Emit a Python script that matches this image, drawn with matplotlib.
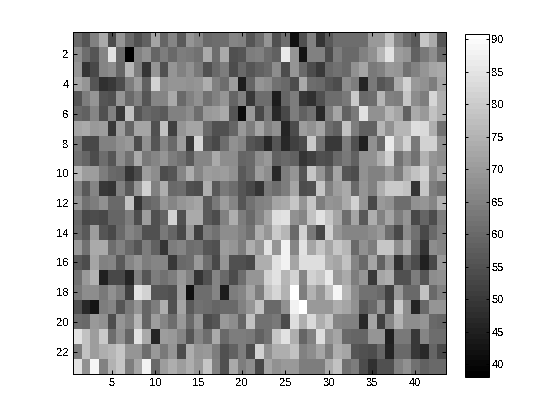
import numpy as np
import matplotlib
matplotlib.use("Agg")
import matplotlib.pyplot as plt

plt.rcParams['font.family'] = ['Liberation Sans', 'DejaVu Sans']
plt.rcParams['font.size'] = 8
plt.rcParams['text.antialiased'] = False

W, H = 560, 420

x_ticks = [5, 10, 15, 20, 25, 30, 35, 40]
y_ticks = [2, 4, 6, 8, 10, 12, 14, 16, 18, 20, 22]
cbar_ticks = [40, 45, 50, 55, 60, 65, 70, 75, 80, 85, 90]
vmin, vmax = 38.1, 90.9

# values, row by row from the top
r01 = [60,56,65,73,54,69,60,55,58,72,59,66,57,69,66,60,61,61,66,65, 56,61,69,55,61,42,55,65,49,57,61,61,61,61,70,70,78,66,61,57,79,73,56]
r02 = [67,61,56,66,85,60,38,65,68,59,64,60,64,63,62,73,61,73,55,56, 64,65,61,58,86,69,43,65,65,54,64,60,60,65,68,76,85,71,69,58,63,67,60]
r03 = [69,49,53,66,67,59,76,64,49,69,55,69,65,68,63,55,60,64,54,60, 56,58,60,67,54,69,60,54,50,60,62,60,68,72,63,65,70,69,62,65,69,72,73]
r04 = [72,69,56,48,50,54,64,71,58,81,67,69,69,68,69,74,65,61,71,44, 59,69,67,62,60,54,73,61,60,56,54,67,64,46,63,56,58,73,81,70,68,64,72]
r05 = [56,64,69,56,55,69,60,65,56,66,66,73,60,65,68,62,65,69,59,65, 50,61,61,44,59,64,50,48,55,61,61,63,80,60,61,76,65,64,79,67,64,82,74]
r06 = [60,58,66,55,65,50,78,56,60,58,57,65,65,67,61,70,71,73,56,41, 70,53,63,47,53,64,58,62,47,64,72,58,63,85,68,68,76,72,58,73,70,78,74]
r07 = [72,73,70,71,50,71,59,72,72,55,78,52,69,72,72,60,55,55,59,70, 64,72,65,68,46,54,71,68,72,61,58,78,64,58,58,76,68,76,76,84,83,74,62]
r08 = [63,53,53,65,65,68,70,54,68,56,66,60,71,50,82,56,53,61,68,66, 56,54,47,56,47,52,54,80,62,50,50,64,55,45,68,60,86,73,81,63,81,81,68]
r09 = [62,59,54,61,56,67,62,73,63,66,69,64,62,57,66,66,73,67,67,59, 60,67,70,58,60,58,49,52,55,54,60,63,58,68,68,74,81,62,67,62,75,69,67]
r10 = [76,71,71,64,60,59,49,54,71,67,54,56,66,74,66,71,70,71,68,57, 60,71,67,47,64,69,56,79,69,59,72,56,54,68,65,65,70,64,74,78,81,67,73]
r11 = [65,57,66,50,49,65,57,69,81,65,74,60,61,55,54,74,57,63,61,56, 53,49,63,61,64,72,54,55,79,65,71,73,60,69,65,74,80,80,78,49,79,64,62]
r12 = [69,62,64,68,60,60,78,49,59,61,69,66,69,71,72,57,63,71,66,56, 62,65,66,72,73,79,69,79,64,69,68,73,81,69,53,70,68,61,61,68,69,66,75]
r13 = [60,53,54,53,59,59,64,54,71,55,59,81,55,73,73,57,54,65,74,64, 60,66,72,84,85,68,66,78,85,79,72,61,72,57,74,65,72,64,69,53,59,54,64]
r14 = [61,57,71,56,53,60,66,63,55,55,63,59,53,70,52,64,62,67,67,65, 62,74,69,80,76,60,81,63,53,81,69,66,66,66,67,70,61,53,67,62,53,60,65]
r15 = [70,62,73,73,61,65,60,56,64,58,49,64,66,61,62,56,55,71,69,64, 74,69,85,69,88,66,85,72,79,72,79,76,60,68,64,79,79,67,74,59,49,67,66]
r16 = [57,54,72,65,66,57,66,69,64,66,66,50,60,61,70,61,53,69,55,55, 53,74,74,85,88,72,84,84,84,74,72,78,66,60,72,58,69,48,59,54,45,53,70]
r17 = [62,70,75,45,53,53,46,65,56,64,62,64,70,65,49,55,66,60,54,61, 69,69,81,85,76,81,66,81,79,86,70,73,64,69,50,72,74,55,55,64,56,67,68]
r18 = [63,67,67,63,68,64,52,85,81,56,56,55,71,42,61,61,66,44,64,66, 72,64,78,82,75,91,64,75,69,78,89,76,67,62,62,60,52,70,60,60,78,60,65]
r19 = [55,47,43,64,66,56,63,69,59,64,74,55,72,57,62,61,59,60,60,65, 69,78,60,60,68,88,91,70,70,70,74,72,68,57,60,69,53,80,67,46,60,69,69]
r20 = [61,60,70,68,54,69,65,76,59,71,66,61,70,60,69,54,56,70,67,59, 78,62,62,63,54,84,74,83,74,79,66,65,65,47,72,52,66,75,67,67,69,60,59]
r21 = [85,78,71,80,61,68,59,85,73,46,71,70,66,56,66,61,73,60,64,64, 63,58,62,79,85,74,59,65,84,69,72,60,59,59,69,69,45,63,63,50,66,61,61]
r22 = [64,78,71,74,76,79,69,69,61,70,63,69,54,74,69,70,64,55,58,64, 54,81,68,74,74,78,65,67,72,64,74,72,56,55,54,59,46,60,60,50,47,59,53]
r23 = [85,68,89,65,75,79,64,72,88,60,71,74,71,74,70,79,65,55,73,64, 67,53,72,68,70,70,64,64,64,73,78,62,64,54,48,55,55,65,68,62,58,60,60]

data = np.array([r01, r02, r03, r04, r05, r06, r07, r08, r09, r10, r11, r12,
                 r13, r14, r15, r16, r17, r18, r19, r20, r21, r22, r23])


def px_axes(fig, left, top, right, bottom):
    return fig.add_axes([left / W, 1 - bottom / H, (right - left) / W, (bottom - top) / H])


fig = plt.figure(figsize=(W / 100, H / 100), dpi=100, facecolor='white')

ax = px_axes(fig, 73, 32, 445.5, 374)
im = ax.imshow(data, cmap=plt.get_cmap('gray', 64), vmin=vmin, vmax=vmax,
               aspect='auto', interpolation='nearest',
               extent=[0.5, data.shape[1] + 0.5, data.shape[0] + 0.5, 0.5])
ax.set_xticks(x_ticks)
ax.set_yticks(y_ticks)
ax.tick_params(direction='in', length=3.1, width=0.72, top=True, right=True, pad=3, labelsize=8)
for s in ax.spines.values():
    s.set_linewidth(0.72)

cax = px_axes(fig, 464.5, 33.5, 488.5, 376.5)
cb = fig.colorbar(im, cax=cax)
cb.set_ticks(cbar_ticks)
cb.outline.set_linewidth(0.72)
cax.tick_params(direction='in', length=2.4, width=0.72, left=True, right=True, pad=2, labelsize=8)

fig.savefig('out.png', dpi=100, facecolor='white')
